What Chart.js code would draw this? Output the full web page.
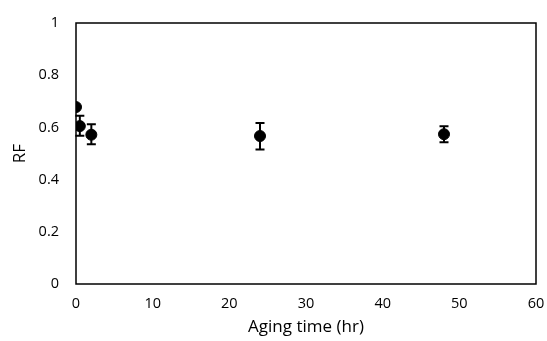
<!DOCTYPE html>
<html>
<head>
<meta charset="utf-8">
<script src="https://cdn.jsdelivr.net/npm/chart.js@4"></script>
<style>
  html, body { margin: 0; padding: 0; background: #fff; }
  #wrap { width: 547px; height: 341px; }
</style>
</head>
<body>
<div id="wrap"><canvas id="mycanvas" width="547" height="341"></canvas></div>
<script>
// data
var agingTime = [0, 0.5, 2, 24, 48];
var rfValues = [0.678, 0.605, 0.572, 0.567, 0.574];
var errUpper = [0.678, 0.645, 0.612, 0.617, 0.604];
var errLower = [0.678, 0.568, 0.535, 0.515, 0.543];
var xTicks = [0, 10, 20, 30, 40, 50, 60];
var yTicks = [0, 0.2, 0.4, 0.6, 0.8, 1];

var points = [];
for (var i in agingTime) {
  points.push({ x: agingTime[i], y: rfValues[i] });
}

// draws the error bars and the box around the plot
var extras = {
  id: 'extras',
  afterDatasetsDraw: function(chart) {
    var ctx = chart.ctx;
    var xs = chart.scales.x, ys = chart.scales.y;
    ctx.save();
    ctx.strokeStyle = '#000';
    ctx.lineWidth = 2;
    for (var i = 0; i < agingTime.length; i++) {
      if (errUpper[i] === errLower[i]) continue;
      var px = xs.getPixelForValue(agingTime[i]);
      var top = ys.getPixelForValue(errUpper[i]);
      var bot = ys.getPixelForValue(errLower[i]);
      ctx.beginPath();
      ctx.moveTo(px, top); ctx.lineTo(px, bot);
      ctx.moveTo(px - 4.5, top); ctx.lineTo(px + 4.5, top);
      ctx.moveTo(px - 4.5, bot); ctx.lineTo(px + 4.5, bot);
      ctx.stroke();
    }
    var a = chart.chartArea;
    ctx.lineWidth = 1.5;
    ctx.strokeRect(a.left, a.top, a.right - a.left, a.bottom - a.top);
    ctx.restore();
  }
};

var ctx = document.getElementById('mycanvas');

var chart = new Chart(ctx, {
  type: 'scatter',
  data: {
    datasets: [{
      label: 'RF',
      data: points,
      backgroundColor: '#000',
      borderColor: '#000',
      pointRadius: 5.5,
      pointHoverRadius: 5.5
    }]
  },
  options: {
    responsive: false,
    animation: false,
    layout: { padding: { top: 23, right: 11, left: 0, bottom: 0 } },
    plugins: {
      legend: { display: false },
      tooltip: { enabled: false }
    },
    scales: {
      x: {
        type: 'linear',
        min: 0, max: 60,
        afterBuildTicks: function(s) { s.ticks = xTicks.map(function(v) { return { value: v }; }); },
        afterFit: function(s) { s.height = 57; s.paddingRight = 0; s.paddingLeft = 0; },
        grid: { display: false },
        border: { display: false },
        ticks: { color: '#000', font: { family: 'Open Sans', size: 14.5 }, padding: 3, maxRotation: 0 },
        title: { display: true, text: 'Aging time (hr)', color: '#000', font: { family: 'Open Sans', size: 17 }, padding: { top: 2 } }
      },
      y: {
        min: 0, max: 1,
        afterBuildTicks: function(s) { s.ticks = yTicks.map(function(v) { return { value: v }; }); },
        afterFit: function(s) { s.width = 76; s.paddingTop = 0; s.paddingBottom = 0; },
        grid: { display: false },
        border: { display: false },
        ticks: {
          color: '#000', font: { family: 'Open Sans', size: 14.5 }, padding: 9,
          callback: function(v) { return String(Math.round(v * 10) / 10); }
        },
        title: { display: true, text: 'RF', color: '#000', font: { family: 'Open Sans', size: 17 }, padding: { top: 10 } }
      }
    }
  },
  plugins: [extras]
});
</script>
</body>
</html>
